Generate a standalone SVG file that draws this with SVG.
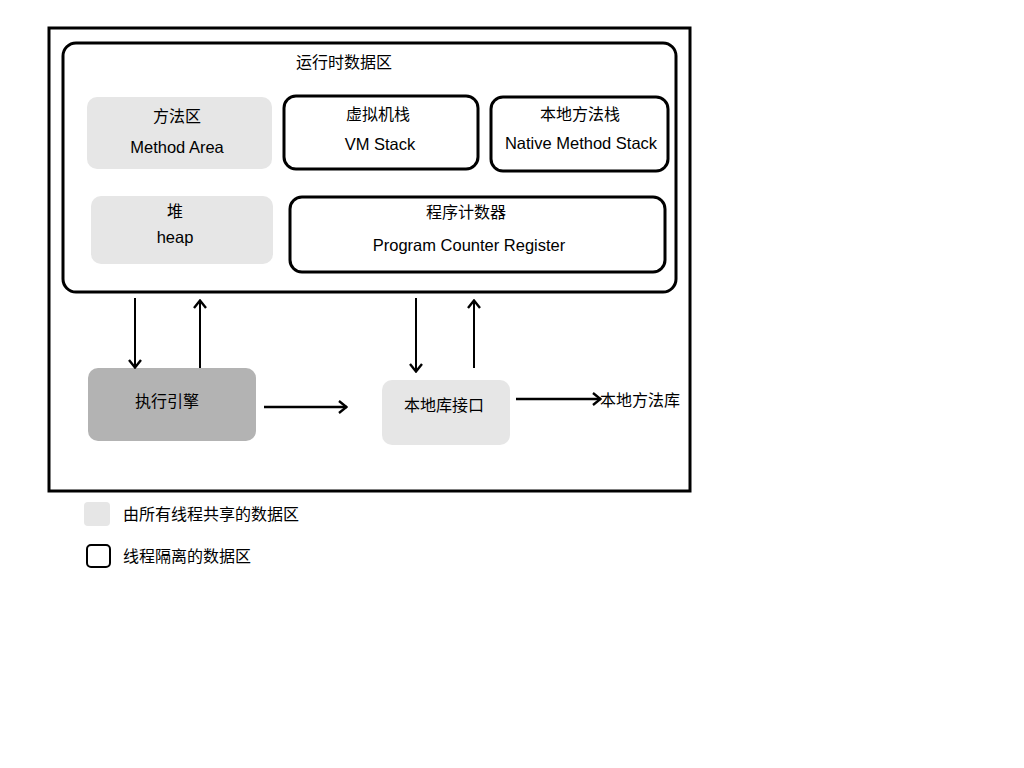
<svg xmlns="http://www.w3.org/2000/svg" width="1024" height="768" viewBox="0 0 1024 768">
<defs>
<style>
text{font-family:"Liberation Sans","Noto Sans CJK SC",sans-serif;font-size:16px;fill:#000;text-anchor:middle;dominant-baseline:central}
.en{font-size:16.5px}
.shared{fill:#e6e6e6;stroke:none}
.thread{fill:#fff;stroke:#000;stroke-width:3}
.conn{stroke:#000;stroke-width:2;fill:none}
.connh{stroke:#000;stroke-width:2.6;fill:none}
</style>
<marker id="ah" viewBox="0 0 12 14" refX="11" refY="7" markerWidth="12" markerHeight="14" markerUnits="userSpaceOnUse" orient="auto">
<path d="M3,1 L10.5,7 L3,13" fill="none" stroke="#000" stroke-width="2.4"/>
</marker>
</defs>
<rect width="1024" height="768" fill="#fff"/>
<g id="outer"><rect x="49" y="28" width="641" height="463" fill="#fff" stroke="#000" stroke-width="3"/></g>
<g id="runtime"><rect x="63" y="43" width="613" height="249" rx="13" fill="#fff" stroke="#000" stroke-width="3"/>
<text x="344" y="62">运行时数据区</text></g>
<g id="method-area"><rect class="shared" x="87" y="97" width="185" height="72" rx="10"/>
<text x="177" y="116">方法区</text><text class="en" x="177" y="147">Method Area</text></g>
<g id="vm-stack"><rect class="thread" x="284" y="96" width="194" height="73" rx="12"/>
<text x="378" y="114">虚拟机栈</text><text class="en" x="380" y="144">VM Stack</text></g>
<g id="native-stack"><rect class="thread" x="491" y="97" width="177" height="74" rx="12"/>
<text x="580" y="114">本地方法栈</text><text class="en" x="581" y="143">Native Method Stack</text></g>
<g id="heap"><rect class="shared" x="91" y="196" width="182" height="68" rx="10"/>
<text x="175" y="211">堆</text><text class="en" x="175" y="237">heap</text></g>
<g id="pc-register"><rect class="thread" x="290" y="197" width="375" height="75" rx="12"/>
<text x="466" y="212">程序计数器</text><text class="en" x="469" y="245">Program Counter Register</text></g>
<g id="exec-engine"><rect x="88" y="368" width="168" height="73" rx="10" fill="#b3b3b3"/>
<text x="167" y="401">执行引擎</text></g>
<g id="native-interface"><rect class="shared" x="382" y="380" width="128" height="65" rx="10"/>
<text x="444" y="405">本地库接口</text></g>
<g id="native-lib"><text x="640" y="400">本地方法库</text></g>
<g id="connectors">
<line class="conn" x1="135" y1="298" x2="135" y2="368" marker-end="url(#ah)"/>
<line class="conn" x1="200" y1="368" x2="200" y2="300" marker-end="url(#ah)"/>
<line class="conn" x1="416" y1="298" x2="416" y2="372" marker-end="url(#ah)"/>
<line class="conn" x1="474" y1="368" x2="474" y2="300" marker-end="url(#ah)"/>
<line class="connh" x1="264" y1="407" x2="347" y2="407" marker-end="url(#ah)"/>
<line class="connh" x1="516" y1="399" x2="601" y2="399" marker-end="url(#ah)"/>
</g>
<g id="legend">
<rect class="shared" x="84" y="502" width="26" height="24" rx="4"/>
<text x="123" y="514" style="text-anchor:start">由所有线程共享的数据区</text>
<rect x="87" y="545" width="23" height="22" rx="4" fill="#fff" stroke="#000" stroke-width="2"/>
<text x="123" y="556" style="text-anchor:start">线程隔离的数据区</text>
</g>
</svg>
